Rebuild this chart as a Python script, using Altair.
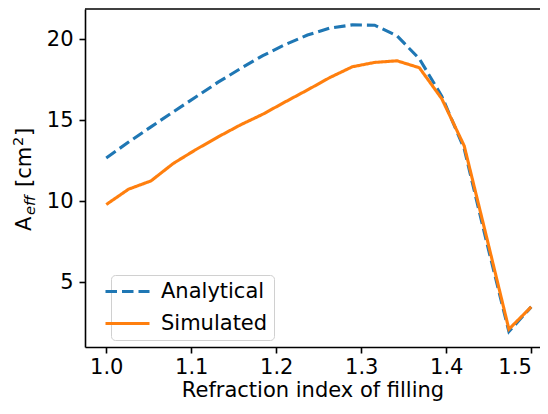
import altair as alt
import pandas as pd

# Data
refr_index = [1.0, 1.0263, 1.0526, 1.0789, 1.1053, 1.1316, 1.1579, 1.1842, 1.2105, 1.2368,
              1.2632, 1.2895, 1.3158, 1.3421, 1.3684, 1.3947, 1.4211, 1.4474, 1.4737, 1.5]
analytical = [12.68, 13.66, 14.6, 15.53, 16.44, 17.36, 18.2, 19.0, 19.68, 20.27,
              20.7, 20.9, 20.88, 20.22, 18.8, 16.5, 13.25, 7.5, 1.95, 3.48]
simulated = [9.8, 10.75, 11.26, 12.34, 13.19, 13.98, 14.72, 15.38, 16.14, 16.88,
             17.65, 18.31, 18.58, 18.68, 18.25, 16.34, 13.43, 7.8, 2.1, 3.48]
series_names = ["Analytical", "Simulated"]
x_ticks = [1.0, 1.1, 1.2, 1.3, 1.4, 1.5]
y_ticks = [5, 10, 15, 20]

rows = []
for name, vals in zip(series_names, [analytical, simulated]):
    for i, (xv, yv) in enumerate(zip(refr_index, vals)):
        rows.append({"n": xv, "A": yv, "series": name, "order": i})
df = pd.DataFrame(rows)

W, H = 455, 338
FONT = "DejaVu Sans"
FS = 21
PX_PER_UNIT = 850.0
x_max = 0.975 + W / PX_PER_UNIT

legend = alt.Legend(
    orient="none", legendX=26, legendY=266, title=None,
    symbolType="M-4,0H4", symbolSize=121, symbolStrokeWidth=3.1,
    labelFont=FONT, labelFontSize=FS, labelColor="black", labelOffset=23,
    padding=6, fillColor="white", strokeColor="#d0d0d0", cornerRadius=4,
    rowPadding=10,
)

lines = alt.Chart(df).mark_line(strokeWidth=3.1, clip=True).encode(
    x=alt.X("n:Q", scale=alt.Scale(domain=[0.975, x_max], nice=False, zero=False),
            axis=alt.Axis(values=x_ticks, format=".1f", labelFlush=10,
                          title="Refraction index of filling")),
    y=alt.Y("A:Q", scale=alt.Scale(domain=[1.0, 21.88], nice=False, zero=False),
            axis=alt.Axis(values=y_ticks, format="d", title=None)),
    color=alt.Color("series:N", scale=alt.Scale(domain=series_names, range=["#1f77b4", "#ff7f0e"]),
                    legend=legend),
    strokeDash=alt.StrokeDash("series:N", scale=alt.Scale(domain=series_names, range=[[11.5, 5], [1, 0]]),
                              legend=legend),
    order="order:Q",
)

one = pd.DataFrame({"k": [0]})

# top spine
top_spine = alt.Chart(one).mark_rule(color="black", strokeWidth=1.6).encode(
    x=alt.value(0), x2=alt.value(W), y=alt.value(0))


def ytitle_piece(txt, x, y, size, italic=False):
    kw = dict(text=txt, angle=270, align="left", baseline="alphabetic",
              font=FONT, fontSize=size, color="black")
    if italic:
        kw["fontStyle"] = "italic"
    return alt.Chart(one).mark_text(**kw).encode(x=alt.value(x), y=alt.value(y))


t_A = ytitle_piece("A", -54, 222, FS)
t_eff = ytitle_piece("eff", -50, 206, 14.7, italic=True)
t_unit = ytitle_piece("[cm", -54, 178, FS)
t_sq = ytitle_piece("2", -62, 137, 14.7)
t_br = ytitle_piece("]", -54, 127, FS)

chart = alt.layer(lines, top_spine, t_A, t_eff, t_unit, t_sq, t_br).properties(
    width=W, height=H,
    autosize="none",
    padding={"left": 77, "top": 1, "right": 0, "bottom": 55},
).configure_view(
    stroke=None
).configure_axis(
    grid=False, labelFont=FONT, labelFontSize=FS, labelColor="black",
    tickColor="black", tickWidth=1.6, tickSize=6, domainColor="black", domainWidth=1.6,
    titleFont=FONT, titleFontSize=FS, titleColor="black", titleFontWeight="normal",
).configure_axisX(
    labelPadding=3, titlePadding=2,
).configure_axisY(
    labelPadding=6,
)

chart.save("out.html", embed_options={"renderer": "svg", "actions": False})
